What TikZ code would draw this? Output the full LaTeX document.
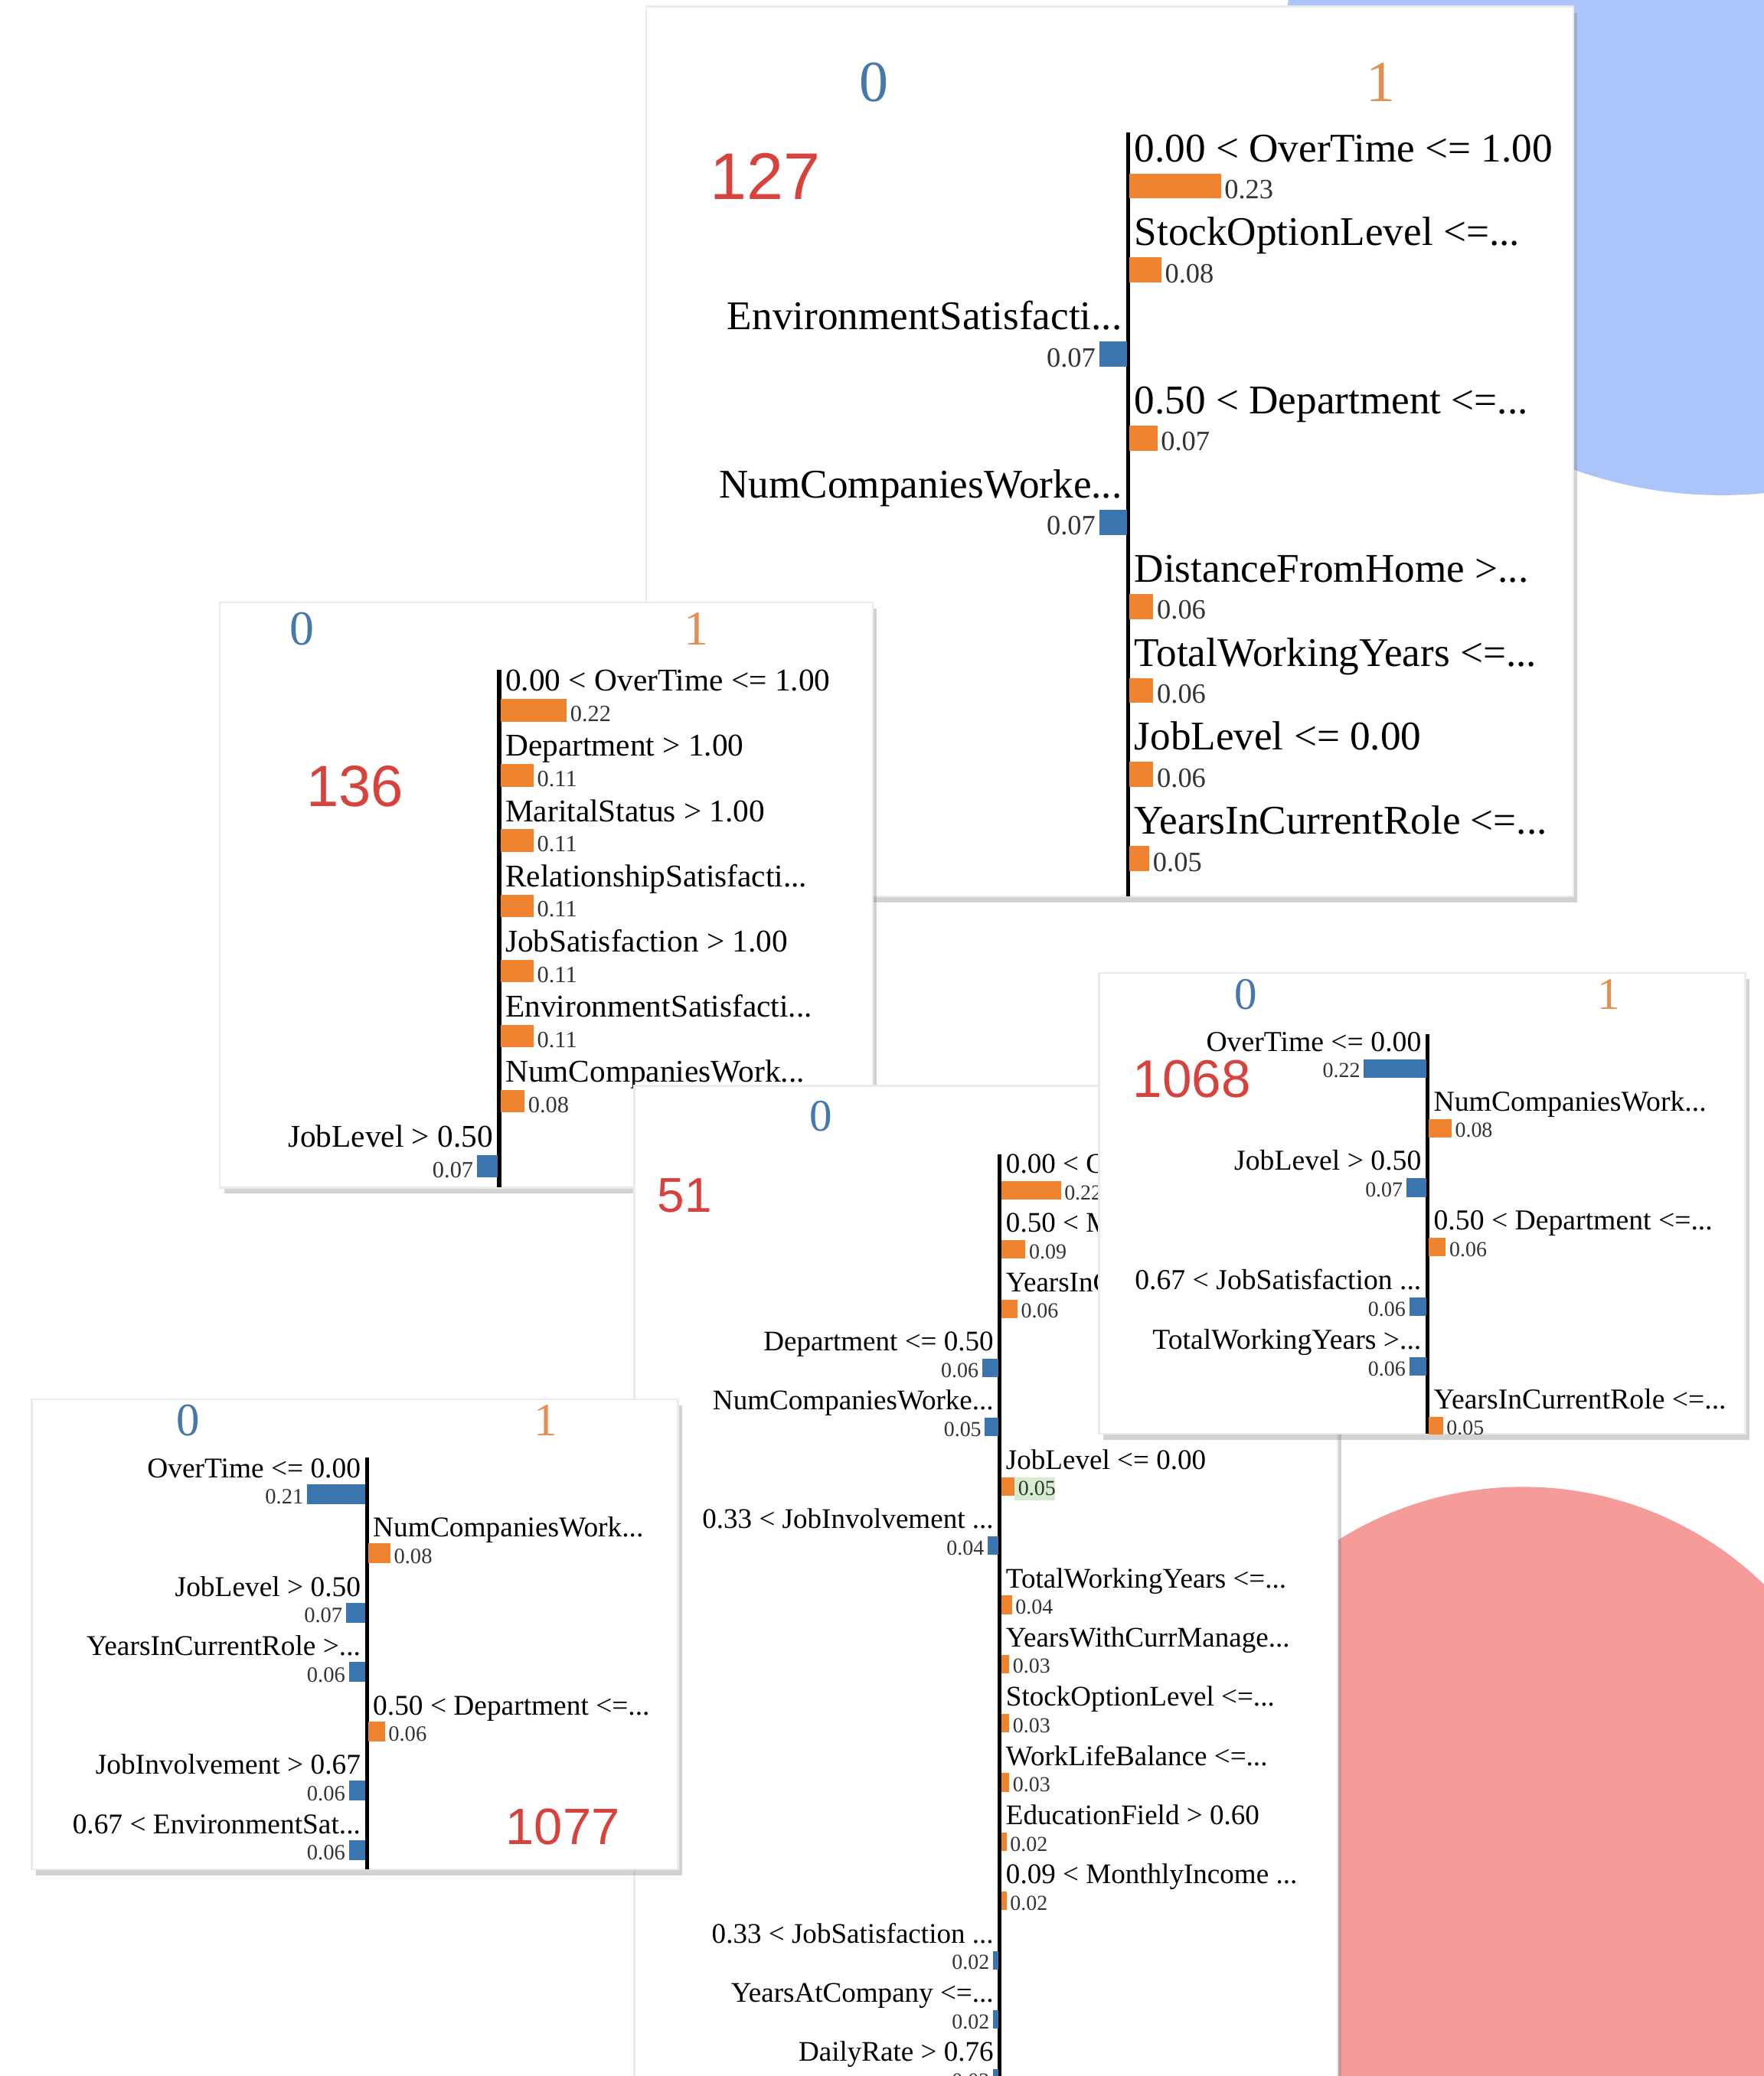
\documentclass[tikz,border=0pt]{standalone}
\usepackage{fontspec}
\setmainfont{Liberation Serif}
\newfontfamily\numfont{Liberation Sans}
\usetikzlibrary{shadows}
\definecolor{limeorange}{RGB}{240,131,48}
\definecolor{limeblue}{RGB}{58,117,176}
\definecolor{zeroblue}{RGB}{70,120,170}
\definecolor{oneorange}{RGB}{228,142,82}
\definecolor{idred}{RGB}{215,66,61}
\definecolor{bluedisc}{RGB}{171,196,249}
\definecolor{reddisc}{RGB}{245,156,155}
\definecolor{hlgreen}{RGB}{214,236,208}
\tikzstyle{card}=[fill=white,draw=black!8,line width=0.4pt,drop shadow={shadow xshift=0.9pt,shadow yshift=-1.3pt,opacity=0.35}]
\tikzstyle{axis}=[line width=0.85pt]
\tikzstyle{posbar}=[fill=limeorange]
\tikzstyle{negbar}=[fill=limeblue]
\tikzstyle{lbl}=[inner sep=0pt,font=\fontsize{\lsz}{\lsz}\selectfont]
\tikzstyle{val}=[inner sep=0pt,text=black!80,font=\fontsize{\vsz}{\vsz}\selectfont]
\tikzstyle{zero}=[inner sep=0pt,text=zeroblue,font=\fontsize{\csz}{\csz}\selectfont]
\tikzstyle{one}=[inner sep=0pt,text=oneorange,font=\fontsize{\csz}{\csz}\selectfont]
\tikzstyle{idnum}=[inner sep=0pt,text=idred,font=\numfont\fontsize{\isz}{\isz}\selectfont]

\begin{document}
\begin{tikzpicture}[x=0.1mm,y=-0.1mm]
    \useasboundingbox (0,0) rectangle (1332,1568);
    \clip (0,0) rectangle (1332,1568);
    \fill[white] (0,0) rectangle (1332,1568);

    % discs behind the cards
    \fill[bluedisc] (1300,44) circle (330);
    \fill[reddisc] (1150,1385) circle (262);

    % card 127
    \path[card] (488,5) rectangle (1188,677);
    \begin{scope}
    \clip (488,5) rectangle (1188,677);
    \def\cn{c127} \def\ax{852} \def\yo{122} \def\pitch{63.5} \def\k{300} \def\bt{9} \def\bh{19}
    \def\lsz{8.75pt} \def\vsz{6pt} \def\csz{12.5pt} \def\isz{14.2pt}
    \node[zero] (c127-zero) at (660,62) {0};
    \node[one] (c127-one) at (1043,62) {1};
    \node[idnum] (c127-id) at (578,133) {127};
    \coordinate (c127-top) at (\ax,100);
    \coordinate (c127-bot) at (\ax,677);
    \draw[axis] (c127-top) -- (c127-bot);
    \foreach \i/\side/\txt/\val in {0/1/{0.00 < OverTime <= 1.00}/0.23, 1/1/{StockOptionLevel <=...}/0.08,
        2/0/{EnvironmentSatisfacti...}/0.07, 3/1/{0.50 < Department <=...}/0.07, 4/0/{NumCompaniesWorke...}/0.07,
        5/1/{DistanceFromHome >...}/0.06, 6/1/{TotalWorkingYears <=...}/0.06, 7/1/{JobLevel <= 0.00}/0.06,
        8/1/{YearsInCurrentRole <=...}/0.05}{
        \pgfmathsetmacro\yy{\yo+\i*\pitch}
        \pgfmathsetmacro\ww{\val*\k}
        \ifnum\side=1
            \node[lbl,anchor=base west] (\cn-l\i) at (\ax+4,\yy) {\txt};
            \fill[posbar] (\ax+1,\yy+\bt) rectangle ++(\ww,\bh);
            \node[val,anchor=base west] (\cn-v\i) at (\ax+3+\ww,\yy+\bt+\bh) {\val};
        \else
            \node[lbl,anchor=base east] (\cn-l\i) at (\ax-4,\yy) {\txt};
            \fill[negbar] (\ax-1,\yy+\bt) rectangle ++(-\ww,\bh);
            \node[val,anchor=base east] (\cn-v\i) at (\ax-3-\ww,\yy+\bt+\bh) {\val};
        \fi
    }
    \end{scope}

    % card 136
    \path[card] (166,455) rectangle (659,897);
    \begin{scope}
    \clip (166,455) rectangle (659,897);
    \def\cn{c136} \def\ax{377} \def\yo{522} \def\pitch{49.2} \def\k{227} \def\bt{6} \def\bh{17}
    \def\lsz{6.8pt} \def\vsz{5pt} \def\csz{10.5pt} \def\isz{12.5pt}
    \node[zero] (c136-zero) at (228,475) {0};
    \node[one] (c136-one) at (526,475) {1};
    \node[idnum] (c136-id) at (268,594) {136};
    \coordinate (c136-top) at (\ax,506);
    \coordinate (c136-bot) at (\ax,897);
    \draw[axis] (c136-top) -- (c136-bot);
    \foreach \i/\side/\txt/\val in {0/1/{0.00 < OverTime <= 1.00}/0.22, 1/1/{Department > 1.00}/0.11,
        2/1/{MaritalStatus > 1.00}/0.11, 3/1/{RelationshipSatisfacti...}/0.11, 4/1/{JobSatisfaction > 1.00}/0.11,
        5/1/{EnvironmentSatisfacti...}/0.11, 6/1/{NumCompaniesWork...}/0.08, 7/0/{JobLevel > 0.50}/0.07}{
        \pgfmathsetmacro\yy{\yo+\i*\pitch}
        \pgfmathsetmacro\ww{\val*\k}
        \ifnum\side=1
            \node[lbl,anchor=base west] (\cn-l\i) at (\ax+4,\yy) {\txt};
            \fill[posbar] (\ax+1,\yy+\bt) rectangle ++(\ww,\bh);
            \node[val,anchor=base west] (\cn-v\i) at (\ax+3+\ww,\yy+\bt+\bh) {\val};
        \else
            \node[lbl,anchor=base east] (\cn-l\i) at (\ax-4,\yy) {\txt};
            \fill[negbar] (\ax-1,\yy+\bt) rectangle ++(-\ww,\bh);
            \node[val,anchor=base east] (\cn-v\i) at (\ax-3-\ww,\yy+\bt+\bh) {\val};
        \fi
    }
    \end{scope}

    % card 51
    \path[card] (479,820) rectangle (1010,1600);
    \begin{scope}
    \clip (479,820) rectangle (1010,1600);
    \def\cn{c51} \def\ax{755} \def\yo{886} \def\pitch{44.73} \def\k{205} \def\bt{6} \def\bh{14}
    \def\lsz{6.1pt} \def\vsz{4.6pt} \def\csz{9.7pt} \def\isz{10.5pt}
    \node[zero] (c51-zero) at (620,843) {0};
    \node[idnum] (c51-id) at (517,903) {51};
    \coordinate (c51-top) at (\ax,872);
    \coordinate (c51-bot) at (\ax,1600);
    \draw[axis] (c51-top) -- (c51-bot);
    \fill[hlgreen] (766,1116) rectangle (797,1133);
    \foreach \i/\side/\txt/\val in {0/1/{0.00 < O}/0.22, 1/1/{0.50 < M}/0.09, 2/1/{YearsInC}/0.06,
        3/0/{Department <= 0.50}/0.06, 4/0/{NumCompaniesWorke...}/0.05, 5/1/{JobLevel <= 0.00}/0.05,
        6/0/{0.33 < JobInvolvement ...}/0.04, 7/1/{TotalWorkingYears <=...}/0.04, 8/1/{YearsWithCurrManage...}/0.03,
        9/1/{StockOptionLevel <=...}/0.03, 10/1/{WorkLifeBalance <=...}/0.03, 11/1/{EducationField > 0.60}/0.02,
        12/1/{0.09 < MonthlyIncome ...}/0.02, 13/0/{0.33 < JobSatisfaction ...}/0.02, 14/0/{YearsAtCompany <=...}/0.02,
        15/0/{DailyRate > 0.76}/0.02}{
        \pgfmathsetmacro\yy{\yo+\i*\pitch}
        \pgfmathsetmacro\ww{\val*\k}
        \ifnum\side=1
            \node[lbl,anchor=base west] (\cn-l\i) at (\ax+4,\yy) {\txt};
            \fill[posbar] (\ax+1,\yy+\bt) rectangle ++(\ww,\bh);
            \node[val,anchor=base west] (\cn-v\i) at (\ax+3+\ww,\yy+\bt+\bh) {\val};
        \else
            \node[lbl,anchor=base east] (\cn-l\i) at (\ax-4,\yy) {\txt};
            \fill[negbar] (\ax-1,\yy+\bt) rectangle ++(-\ww,\bh);
            \node[val,anchor=base east] (\cn-v\i) at (\ax-3-\ww,\yy+\bt+\bh) {\val};
        \fi
    }
    \end{scope}

    % card 1077
    \path[card] (24,1057) rectangle (512,1412);
    \begin{scope}
    \clip (24,1057) rectangle (512,1412);
    \def\cn{c1077} \def\ax{277} \def\yo{1116} \def\pitch{44.8} \def\k{210} \def\bt{5} \def\bh{15}
    \def\lsz{6.15pt} \def\vsz{4.7pt} \def\csz{10pt} \def\isz{11pt}
    \node[zero] (c1077-zero) at (142,1073) {0};
    \node[one] (c1077-one) at (412,1073) {1};
    \node[idnum] (c1077-id) at (425,1380) {1077};
    \coordinate (c1077-top) at (\ax,1101);
    \coordinate (c1077-bot) at (\ax,1412);
    \draw[axis] (c1077-top) -- (c1077-bot);
    \foreach \i/\side/\txt/\val in {0/0/{OverTime <= 0.00}/0.21, 1/1/{NumCompaniesWork...}/0.08,
        2/0/{JobLevel > 0.50}/0.07, 3/0/{YearsInCurrentRole >...}/0.06, 4/1/{0.50 < Department <=...}/0.06,
        5/0/{JobInvolvement > 0.67}/0.06, 6/0/{0.67 < EnvironmentSat...}/0.06}{
        \pgfmathsetmacro\yy{\yo+\i*\pitch}
        \pgfmathsetmacro\ww{\val*\k}
        \ifnum\side=1
            \node[lbl,anchor=base west] (\cn-l\i) at (\ax+4,\yy) {\txt};
            \fill[posbar] (\ax+1,\yy+\bt) rectangle ++(\ww,\bh);
            \node[val,anchor=base west] (\cn-v\i) at (\ax+3+\ww,\yy+\bt+\bh) {\val};
        \else
            \node[lbl,anchor=base east] (\cn-l\i) at (\ax-4,\yy) {\txt};
            \fill[negbar] (\ax-1,\yy+\bt) rectangle ++(-\ww,\bh);
            \node[val,anchor=base east] (\cn-v\i) at (\ax-3-\ww,\yy+\bt+\bh) {\val};
        \fi
    }
    \end{scope}

    % card 1068
    \path[card] (830,735) rectangle (1318,1083);
    \begin{scope}
    \clip (830,735) rectangle (1318,1083);
    \def\cn{c1068} \def\ax{1078} \def\yo{794} \def\pitch{45} \def\k{214} \def\bt{6} \def\bh{14}
    \def\lsz{6.2pt} \def\vsz{4.6pt} \def\csz{9.7pt} \def\isz{11.4pt}
    \node[zero] (c1068-zero) at (941,751) {0};
    \node[one] (c1068-one) at (1215,751) {1};
    \node[idnum] (c1068-id) at (900,815) {1068};
    \coordinate (c1068-top) at (\ax,781);
    \coordinate (c1068-bot) at (\ax,1083);
    \draw[axis] (c1068-top) -- (c1068-bot);
    \foreach \i/\side/\txt/\val in {0/0/{OverTime <= 0.00}/0.22, 1/1/{NumCompaniesWork...}/0.08,
        2/0/{JobLevel > 0.50}/0.07, 3/1/{0.50 < Department <=...}/0.06, 4/0/{0.67 < JobSatisfaction ...}/0.06,
        5/0/{TotalWorkingYears >...}/0.06, 6/1/{YearsInCurrentRole <=...}/0.05}{
        \pgfmathsetmacro\yy{\yo+\i*\pitch}
        \pgfmathsetmacro\ww{\val*\k}
        \ifnum\side=1
            \node[lbl,anchor=base west] (\cn-l\i) at (\ax+4,\yy) {\txt};
            \fill[posbar] (\ax+1,\yy+\bt) rectangle ++(\ww,\bh);
            \node[val,anchor=base west] (\cn-v\i) at (\ax+3+\ww,\yy+\bt+\bh) {\val};
        \else
            \node[lbl,anchor=base east] (\cn-l\i) at (\ax-4,\yy) {\txt};
            \fill[negbar] (\ax-1,\yy+\bt) rectangle ++(-\ww,\bh);
            \node[val,anchor=base east] (\cn-v\i) at (\ax-3-\ww,\yy+\bt+\bh) {\val};
        \fi
    }
    \end{scope}
\end{tikzpicture}
\end{document}
